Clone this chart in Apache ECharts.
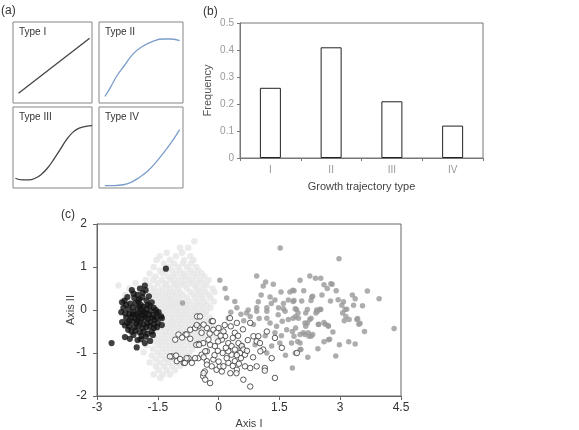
<!DOCTYPE html>
<html>
<head>
<meta charset="utf-8">
<script src="https://cdn.jsdelivr.net/npm/echarts@6/dist/echarts.min.js"></script>
<style>
  html, body { margin: 0; padding: 0; background: #fff; }
  #chart { width: 579px; height: 430px; }
</style>
</head>
<body>
<div id="chart"></div>
<script>
// ---- panel (a): growth trajectory shapes, box-local units 0..100
const typeNames = ['Type I', 'Type II', 'Type III', 'Type IV'];
const curveI = [[7, 12], [97, 80]];
const curveII = [[7, 8], [14, 20], [21, 33], [30, 46], [41, 61], [52, 70], [64, 76], [76, 79], [86, 79], [96, 77]];
const curveIII = [[3, 12], [12, 10], [20, 10], [28, 12], [36, 17], [44, 25], [52, 36], [60, 48], [68, 60], [76, 69], [84, 74], [92, 76], [100, 77]];
const curveIV = [[7, 3], [18, 3], [29, 4], [38, 7], [48, 13], [58, 21], [68, 32], [78, 45], [88, 59], [96, 72]];

// ---- panel (b): frequency of each trajectory type
const typeCategories = ['I', 'II', 'III', 'IV'];
const typeFrequency = [0.26, 0.41, 0.21, 0.12];

// ---- panel (c): ordination scores (Axis I, Axis II)
const pointsBlack = [
  [-1.82, 0.57], [-1.94, 0.50], [-2.14, 0.46], [-1.80, 0.46], [-1.87, 0.40], [-2.0, 0.35], [-2.25, 0.30], [-2.32, 0.22],
  [-1.72, 0.32], [-2.08, 0.28], [-1.95, 0.25], [-1.78, 0.22], [-1.65, 0.18], [-2.38, 0.18], [-2.28, 0.12], [-2.18, 0.15],
  [-2.05, 0.16], [-1.92, 0.12], [-1.85, 0.08], [-1.7, 0.1], [-1.6, 0.05], [-2.35, 0.05], [-2.22, 0.02], [-2.12, 0.06],
  [-2.0, 0.03], [-1.9, 0.0], [-1.78, 0.02], [-1.68, -0.02], [-1.55, 0.0], [-1.48, -0.05], [-2.4, -0.05], [-2.3, -0.08],
  [-2.2, -0.1], [-2.1, -0.05], [-2.02, -0.1], [-1.95, -0.06], [-1.88, -0.12], [-1.8, -0.08], [-1.72, -0.1], [-1.62, -0.12],
  [-1.53, -0.07], [-1.42, -0.15], [-2.28, -0.18], [-2.15, -0.16], [-2.05, -0.2], [-1.98, -0.15], [-1.9, -0.2], [-1.82, -0.18],
  [-1.75, -0.2], [-1.66, -0.18], [-1.58, -0.22], [-1.4, -0.19], [-2.38, -0.28], [-2.25, -0.3], [-2.12, -0.27], [-2.02, -0.32],
  [-1.93, -0.28], [-1.85, -0.33], [-1.76, -0.3], [-1.68, -0.28], [-1.6, -0.33], [-1.5, -0.3], [-2.31, -0.36], [-2.2, -0.38],
  [-2.08, -0.4], [-1.98, -0.38], [-1.88, -0.42], [-1.78, -0.4], [-1.7, -0.38], [-1.6, -0.42], [-1.52, -0.4], [-2.23, -0.46],
  [-2.15, -0.5], [-2.05, -0.48], [-1.95, -0.52], [-1.85, -0.5], [-1.75, -0.55], [-1.65, -0.5], [-1.62, -0.58], [-2.1, -0.58],
  [-1.9, -0.6], [-1.8, -0.62], [-2.31, -0.63], [-2.19, -0.67], [-2.02, -0.87], [-1.82, -0.77], [-1.69, -0.72], [-2.0, -0.7],
  [-1.92, -0.68], [-2.64, -0.77], [-1.30, 0.96], [-2.1, 0.38], [-1.98, 0.2], [-1.88, 0.3], [-2.2, -0.25], [-1.75, 0.12],
  [-2.0, -0.25], [-1.85, -0.05], [-2.12, -0.1], [-1.95, 0.08], [-1.4, -0.35], [-1.53, -0.18]
];

const pointsLight = [
  [-0.6, 1.6], [-0.95, 1.45], [-0.75, 1.45], [-1.28, 1.33], [-0.9, 1.33], [-1.05, 1.25], [-0.7, 1.25], [-1.45, 1.25],
  [-1.53, 1.16], [-1.2, 1.16], [-0.85, 1.16], [-0.62, 1.16], [-1.35, 1.08], [-0.88, 1.08], [-0.68, 1.08], [-1.1, 1.08],
  [-1.6, 1.0], [-1.22, 1.0], [-1.0, 1.0], [-0.78, 1.0], [-0.55, 1.0], [-1.45, 0.92], [-1.15, 0.92], [-0.95, 0.92],
  [-0.7, 0.92], [-0.5, 0.92], [-1.3, 0.92], [-1.7, 0.85], [-1.38, 0.85], [-1.05, 0.85], [-0.85, 0.85], [-0.62, 0.85],
  [-0.42, 0.85], [-1.55, 0.78], [-1.25, 0.78], [-1.12, 0.78], [-0.9, 0.78], [-0.75, 0.78], [-0.55, 0.78], [-0.35, 0.78],
  [-1.8, 0.7], [-1.62, 0.7], [-1.4, 0.7], [-1.18, 0.7], [-1.0, 0.7], [-0.82, 0.7], [-0.65, 0.7], [-0.45, 0.7],
  [-0.25, 0.7], [-2.05, 0.62], [-1.5, 0.62], [-1.32, 0.62], [-1.1, 0.62], [-0.92, 0.62], [-0.72, 0.62], [-0.52, 0.62],
  [-0.38, 0.62], [-2.47, 0.57], [-1.7, 0.57], [-1.28, 0.57], [-1.05, 0.57], [-0.85, 0.57], [-0.6, 0.57], [-0.3, 0.57],
  [-2.2, 0.5], [-1.58, 0.5], [-1.4, 0.5], [-1.2, 0.5], [-1.0, 0.5], [-0.78, 0.5], [-0.55, 0.5], [-0.4, 0.5],
  [-0.15, 0.5], [-1.65, 0.42], [-1.48, 0.42], [-1.3, 0.42], [-1.12, 0.42], [-0.95, 0.42], [-0.7, 0.42], [-0.5, 0.42],
  [-0.32, 0.42], [-0.1, 0.42], [-2.3, 0.35], [-1.55, 0.35], [-1.38, 0.35], [-1.22, 0.35], [-1.05, 0.35], [-0.88, 0.35],
  [-0.62, 0.35], [-0.45, 0.35], [-0.25, 0.35], [-1.62, 0.28], [-1.45, 0.28], [-1.28, 0.28], [-1.15, 0.28], [-0.98, 0.28],
  [-0.78, 0.28], [-0.58, 0.28], [-0.4, 0.28], [-0.2, 0.28], [-2.4, 0.2], [-1.52, 0.2], [-1.35, 0.2], [-1.2, 0.2],
  [-1.05, 0.2], [-0.9, 0.2], [-0.72, 0.2], [-0.52, 0.2], [-0.35, 0.2], [-0.12, 0.2], [-1.6, 0.12], [-1.42, 0.12],
  [-1.25, 0.12], [-1.1, 0.12], [-0.95, 0.12], [-0.8, 0.12], [-0.62, 0.12], [-0.45, 0.12], [-0.28, 0.12], [-1.5, 0.05],
  [-1.32, 0.05], [-1.18, 0.05], [-1.02, 0.05], [-0.85, 0.05], [-0.7, 0.05], [-0.55, 0.05], [-0.38, 0.05], [-0.2, 0.05],
  [-1.58, -0.03], [-1.4, -0.03], [-1.25, -0.03], [-1.08, -0.03], [-0.92, -0.03], [-0.78, -0.03], [-0.6, -0.03], [-0.45, -0.03],
  [-0.3, -0.03], [-1.48, -0.1], [-1.32, -0.1], [-1.15, -0.1], [-1.0, -0.1], [-0.85, -0.1], [-0.68, -0.1], [-0.52, -0.1],
  [-0.35, -0.1], [-1.55, -0.18], [-1.38, -0.18], [-1.22, -0.18], [-1.08, -0.18], [-0.92, -0.18], [-0.75, -0.18], [-0.6, -0.18],
  [-0.42, -0.18], [-0.22, -0.18], [-1.45, -0.26], [-1.3, -0.26], [-1.15, -0.26], [-0.98, -0.26], [-0.82, -0.26], [-0.65, -0.26],
  [-0.48, -0.26], [-0.3, -0.26], [-1.52, -0.34], [-1.35, -0.34], [-1.2, -0.34], [-1.05, -0.34], [-0.9, -0.34], [-0.72, -0.34],
  [-0.55, -0.34], [-0.35, -0.34], [-0.15, -0.34], [-1.58, -0.42], [-1.42, -0.42], [-1.25, -0.42], [-1.1, -0.42], [-0.95, -0.42],
  [-0.78, -0.42], [-0.6, -0.42], [-0.42, -0.42], [-0.25, -0.42], [0.0, -0.42], [-1.5, -0.5], [-1.32, -0.5], [-1.18, -0.5],
  [-1.0, -0.5], [-0.85, -0.5], [-0.65, -0.5], [-0.48, -0.5], [-0.3, -0.5], [-0.1, -0.5], [0.12, -0.5], [-1.62, -0.58],
  [-1.4, -0.58], [-1.25, -0.58], [-1.08, -0.58], [-0.9, -0.58], [-0.72, -0.58], [-0.55, -0.58], [-0.38, -0.58], [-0.2, -0.58],
  [-1.7, -0.66], [-1.5, -0.66], [-1.32, -0.66], [-1.15, -0.66], [-0.98, -0.66], [-0.8, -0.66], [-0.62, -0.66], [-0.45, -0.66],
  [-0.05, -0.66], [-1.58, -0.74], [-1.4, -0.74], [-1.22, -0.74], [-1.05, -0.74], [-0.88, -0.74], [-0.68, -0.74], [-0.5, -0.74],
  [-0.3, -0.74], [-1.78, -0.82], [-1.48, -0.82], [-1.3, -0.82], [-1.12, -0.82], [-0.95, -0.82], [-0.75, -0.82], [-0.58, -0.82],
  [-1.62, -0.9], [-1.38, -0.9], [-1.2, -0.9], [-1.02, -0.9], [-0.85, -0.9], [-0.65, -0.9], [-1.85, -0.98], [-1.5, -0.98],
  [-1.3, -0.98], [-1.1, -0.98], [-0.92, -0.98], [-0.72, -0.98], [-1.65, -1.06], [-1.42, -1.06], [-1.22, -1.06], [-1.0, -1.06],
  [-0.8, -1.06], [-1.55, -1.14], [-1.32, -1.14], [-1.12, -1.14], [-0.9, -1.14], [-1.7, -1.22], [-1.45, -1.22], [-1.25, -1.22],
  [-1.05, -1.22], [-1.55, -1.3], [-1.35, -1.3], [-1.15, -1.3], [-0.95, -1.3], [-1.48, -1.4], [-1.28, -1.4], [-1.08, -1.4],
  [-1.6, -1.5], [-1.38, -1.5], [-1.2, -1.5], [-1.44, -1.58]
];

const pointsGrey = [
  [1.52, 1.44], [0.94, 0.79], [1.16, 0.65], [1.10, 0.56], [0.03, 0.69], [0.16, 0.50], [0.20, 0.28], [1.27, 0.30],
  [1.39, 0.23], [1.54, 0.42], [1.76, 0.42], [1.83, 0.46], [2.01, 0.69], [0.98, 0.19], [1.6, 0.15], [1.72, 0.23],
  [1.84, 0.20], [0.73, 0.0], [0.94, 0.05], [1.19, 0.05], [1.6, 0.03], [1.89, 0.03], [2.97, 1.19], [2.25, 0.79],
  [2.39, 0.74], [2.52, 0.74], [2.60, 0.59], [2.68, 0.50], [2.77, 0.61], [3.67, 0.44], [3.96, 0.26], [2.30, 0.30],
  [2.28, 0.22], [2.05, 0.21], [2.76, 0.21], [2.95, 0.24], [3.08, 0.19], [3.04, 0.11], [3.37, 0.26], [3.33, 0.11],
  [3.16, 0.02], [2.42, 0.0], [2.5, 0.02], [4.33, -0.43], [3.43, -0.20], [3.49, -0.31], [3.37, -0.79], [3.21, -0.74],
  [2.98, -0.81], [2.89, -1.07], [2.74, -0.68], [2.6, -0.74], [2.82, -0.51], [2.70, -0.36], [2.60, -0.29], [2.47, -0.33],
  [2.32, -0.57], [2.13, -0.57], [2.03, -0.92], [1.82, -1.35], [2.80, 0.6], [1.86, 0.45], [1.86, 0.22], [2.32, 0.32],
  [3.06, -0.07], [3.14, -0.15], [3.22, -0.22], [3.10, -0.25], [1.92, 0.01], [1.96, -0.07], [1.90, -0.15], [2.15, -0.07],
  [2.19, 0.01], [2.44, -0.03], [2.52, 0.01], [2.40, -0.07], [2.28, -0.19], [2.19, -0.30], [2.15, -0.38], [1.90, -0.42],
  [1.82, -0.50], [1.86, -0.61], [1.95, -0.73], [2.09, -0.53], [2.23, -0.61], [2.01, -0.77], [0.24, -0.19], [0.69, -0.07],
  [0.78, -0.15], [0.94, -0.03], [1.19, -0.03], [1.19, -0.19], [1.27, -0.30], [1.47, -0.11], [1.57, -0.26], [1.72, -0.22],
  [1.84, -0.19], [1.64, -0.03], [1.43, -0.38], [1.68, -0.46], [1.39, -0.53], [1.51, -0.77], [1.80, -0.77], [1.89, -1.0],
  [1.19, -1.0], [1.31, -0.84], [0.90, -0.81], [0.53, -0.88], [0.58, -0.82], [0.62, -0.25], [0.86, -0.34], [3.12, 0.01],
  [3.41, -0.22], [3.46, -0.33], [2.71, -0.69], [1.97, -0.19], [2.13, -0.30], [2.25, -0.22], [2.21, -0.53], [2.28, -0.61],
  [2.46, -0.34], [2.63, -0.33], [2.71, -0.38], [2.01, -0.57], [2.01, -0.92], [-0.89, 0.16], [0.3, -0.05], [0.45, 0.05],
  [0.55, -0.1], [0.4, 0.2], [1.05, 0.35], [1.35, 0.6], [1.0, -0.2], [1.3, 0.15], [1.48, 0.05], [2.1, 0.45],
  [2.55, 0.35], [2.9, 0.45], [3.3, 0.35], [3.55, 0.1], [3.6, -0.5], [2.45, -0.9], [2.2, -1.1], [1.65, -1.05],
  [1.55, -0.6], [1.15, -0.6]
];

const pointsOpen = [
  [0.28, -0.19], [0.45, -0.30], [0.78, -0.30], [0.40, -0.53], [-0.17, -0.26], [-0.50, -0.38], [-0.42, -0.53], [-0.29, -0.42],
  [-0.13, -0.46], [0.0, -0.42], [-0.05, -0.53], [0.12, -0.50], [0.16, -0.61], [0.08, -0.69], [-0.25, -0.69], [-0.38, -0.77],
  [-0.50, -0.79], [-0.21, -0.81], [-0.09, -0.84], [-0.01, -0.73], [0.24, -0.77], [0.32, -0.84], [0.40, -0.92], [0.49, -0.77],
  [0.57, -0.84], [0.61, -0.92], [0.53, -1.0], [0.65, -1.04], [0.86, -0.61], [0.98, -0.61], [0.94, -0.73], [1.02, -0.77],
  [1.39, -0.65], [1.10, -0.92], [1.56, -0.88], [1.31, -1.12], [1.14, -1.35], [1.14, -1.41], [1.39, -1.58], [-0.50, -1.12],
  [-0.42, -1.04], [-0.29, -0.96], [-0.29, -1.19], [-0.13, -1.15], [-0.17, -1.31], [-0.05, -1.39], [0.03, -1.31], [0.08, -1.43],
  [-0.34, -1.43], [-0.38, -1.54], [-0.21, -1.70], [0.24, -1.23], [0.32, -1.04], [0.24, -0.96], [0.40, -1.19], [0.45, -1.39],
  [0.65, -1.31], [0.78, -1.35], [0.94, -1.31], [0.61, -1.62], [0.78, -1.78], [-1.07, -0.69], [-0.99, -0.57], [-0.82, -0.57],
  [-0.70, -0.46], [-0.70, -0.67], [-1.15, -1.08], [-1.05, -1.06], [-1.03, -1.19], [-0.95, -1.14], [-0.78, -1.16], [-0.86, -1.23],
  [-0.74, -1.12], [-0.53, -0.15], [-0.46, -0.15], [-0.37, -0.34], [-0.55, -0.81], [-0.48, -0.81], [-0.33, -0.96], [-0.37, -1.10],
  [-0.29, -1.27], [-0.37, -1.47], [-0.33, -1.62], [-0.14, -0.26], [0.44, -1.47], [0.29, -1.47], [0.12, -1.31], [1.19, -0.50],
  [1.03, -0.96], [1.93, -1.0], [-0.79, -0.57], [-0.58, -0.42], [-0.54, -0.35], [-1.20, -1.08], [-0.83, -1.23], [-0.66, -1.23],
  [-0.79, -1.12], [-0.58, -1.12], [-0.9, -0.64], [0.05, -0.6], [0.18, -0.88], [0.1, -1.0], [-0.02, -0.95], [0.35, -0.65],
  [0.48, -0.6], [0.55, -1.12], [0.7, -0.95], [0.2, -1.12], [-0.1, -1.05], [0.15, -0.35], [0.6, -0.45], [0.72, -0.7],
  [0.85, -1.1], [0.0, -1.2], [0.35, -1.3], [0.5, -1.25], [-0.22, -0.55], [0.3, -0.38], [0.45, -1.05]
];

const xTicksC = [-3, 4.5, 1.5];   // min, max, interval
const yTicksC = [-2, 2, 1];

// ---- layout
const font = 'Liberation Sans, Arial, sans-serif';
const boxes = [
  { left: 13, top: 22, width: 79, height: 81 },
  { left: 99, top: 22, width: 84, height: 81 },
  { left: 13, top: 107, width: 79, height: 81 },
  { left: 99, top: 107, width: 84, height: 81 }
];
const curves = [curveI, curveII, curveIII, curveIV];
const curveColors = ['#444', '#7b9dc9', '#444', '#7b9dc9'];

const grids = boxes.map(b => Object.assign({
  show: true, borderColor: '#858585', borderWidth: 1, outerBoundsMode: 'none', containLabel: false
}, b));
grids.push({ left: 240, top: 23, width: 243, height: 135, show: true, borderColor: '#777', borderWidth: 1, outerBoundsMode: 'none' });
grids.push({ left: 97, top: 224, width: 304, height: 172, show: true, borderColor: '#666', borderWidth: 1, outerBoundsMode: 'none' });

const xAxes = boxes.map((b, i) => ({ gridIndex: i, type: 'value', min: 0, max: 100, show: false }));
const yAxes = boxes.map((b, i) => ({ gridIndex: i, type: 'value', min: 0, max: 100, show: false }));

xAxes.push({
  gridIndex: 4, type: 'category', data: typeCategories,
  axisLine: { lineStyle: { color: '#777' } },
  axisTick: { show: true, length: 3, lineStyle: { color: '#777' } },
  axisLabel: { color: '#999', fontSize: 10, margin: 7, fontFamily: font },
  name: 'Growth trajectory type', nameLocation: 'middle', nameGap: 23, nameMoveOverlap: false,
  nameTextStyle: { color: '#444', fontSize: 11, fontFamily: font }
});
yAxes.push({
  gridIndex: 4, type: 'value', min: 0, max: 0.5, interval: 0.1,
  splitLine: { show: false },
  axisLine: { show: true, lineStyle: { color: '#777' } },
  axisTick: { show: true, length: 3, lineStyle: { color: '#777' } },
  axisLabel: { color: '#999', fontSize: 10, margin: 6, fontFamily: font },
  name: 'Frequency', nameLocation: 'middle', nameGap: 27, nameMoveOverlap: false,
  nameTextStyle: { color: '#555', fontSize: 11, fontFamily: font }
});

xAxes.push({
  gridIndex: 5, type: 'value', min: xTicksC[0], max: xTicksC[1], interval: xTicksC[2],
  splitLine: { show: false },
  axisLine: { onZero: false, lineStyle: { color: '#666' } },
  axisTick: { show: true, length: 4, lineStyle: { color: '#666' } },
  axisLabel: { color: '#333', fontSize: 12, margin: 6, fontFamily: font },
  name: 'Axis I', nameLocation: 'middle', nameGap: 22, nameMoveOverlap: false,
  nameTextStyle: { color: '#444', fontSize: 11, fontFamily: font }
});
yAxes.push({
  gridIndex: 5, type: 'value', min: yTicksC[0], max: yTicksC[1], interval: yTicksC[2],
  splitLine: { show: false },
  axisLine: { show: true, onZero: false, lineStyle: { color: '#666' } },
  axisTick: { show: true, length: 4, lineStyle: { color: '#666' } },
  axisLabel: { color: '#333', fontSize: 12, margin: 10, fontFamily: font },
  name: 'Axis II', nameLocation: 'middle', nameGap: 21, nameMoveOverlap: false,
  nameTextStyle: { color: '#444', fontSize: 11, fontFamily: font }
});

const series = curves.map((c, i) => ({
  type: 'line', xAxisIndex: i, yAxisIndex: i, data: c, smooth: true, showSymbol: false,
  lineStyle: { color: curveColors[i], width: 1.3 }
}));
series.push({
  type: 'bar', xAxisIndex: 4, yAxisIndex: 4, data: typeFrequency, barWidth: 21,
  itemStyle: { color: '#fff', borderColor: '#222', borderWidth: 1 }
});
const scatterBase = { type: 'scatter', xAxisIndex: 5, yAxisIndex: 5, symbol: 'circle' };
series.push(Object.assign({}, scatterBase, { data: pointsLight, symbolSize: 6.5, itemStyle: { color: '#e6e6e6' } }));
series.push(Object.assign({}, scatterBase, { data: pointsGrey, symbolSize: 5.5, itemStyle: { color: '#999' } }));
series.push(Object.assign({}, scatterBase, { data: pointsOpen, symbolSize: 5.5, itemStyle: { color: '#fff', borderColor: '#333', borderWidth: 1 } }));
series.push(Object.assign({}, scatterBase, { data: pointsBlack, symbolSize: 6.2, itemStyle: { color: '#111' } }));

const labelStyle = { fontSize: 12, fontWeight: 'normal', color: '#333', fontFamily: font };
const typeStyle = { fontSize: 10, fontWeight: 'normal', color: '#333', fontFamily: font };
const titles = [
  { text: '(a)', left: 1, top: 5, padding: 0, textStyle: labelStyle },
  { text: '(b)', left: 203, top: 6, padding: 0, textStyle: labelStyle },
  { text: '(c)', left: 61, top: 209, padding: 0, textStyle: labelStyle }
];
boxes.forEach((b, i) => {
  titles.push({ text: typeNames[i], left: b.left + 6, top: b.top + 5, padding: 0, textStyle: typeStyle });
});

const chart = echarts.init(document.getElementById('chart'), null, { renderer: 'canvas' });
chart.setOption({
  animation: false,
  backgroundColor: '#fff',
  title: titles,
  grid: grids,
  xAxis: xAxes,
  yAxis: yAxes,
  series: series
});
</script>
</body>
</html>
